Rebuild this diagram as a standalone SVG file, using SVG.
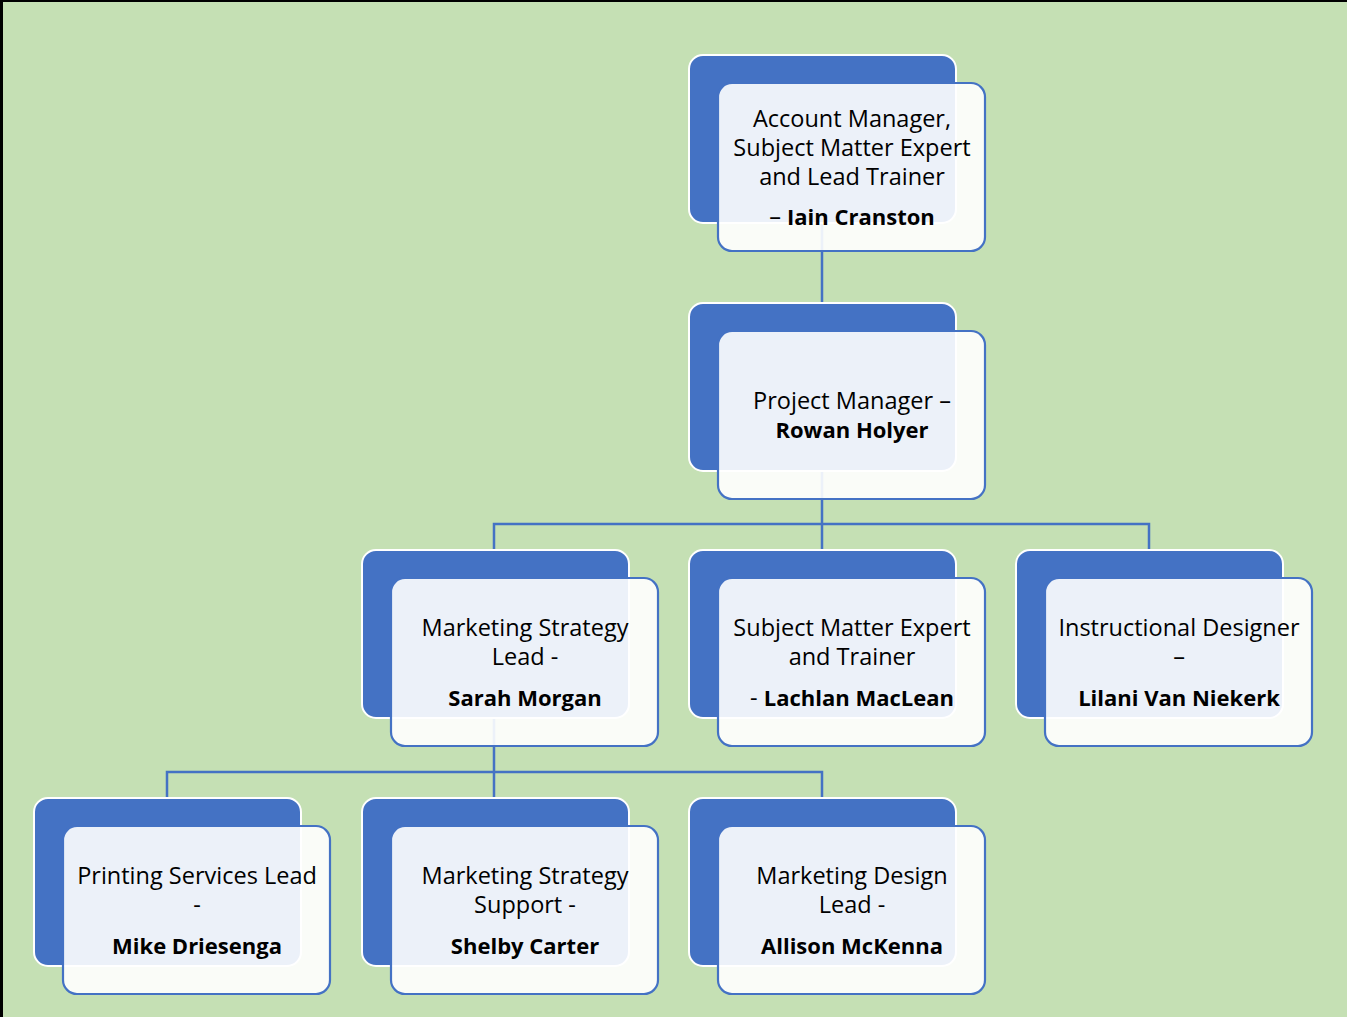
<svg xmlns="http://www.w3.org/2000/svg" width="1347" height="1017" viewBox="0 0 1347 1017">
<style>
.bg{fill:#4472C4;stroke:#FFFFFF;stroke-width:2}
.fg{fill:#FFFFFF;fill-opacity:0.9;stroke:#4472C4;stroke-width:2.2}
.conn{fill:none;stroke:#4472C4;stroke-width:2.5}
text{font-family:"Open Sans","Liberation Sans",sans-serif;font-size:23.5px;fill:#000000;text-anchor:middle}
.b{font-weight:bold;font-size:22px}
</style>
<rect x="0" y="0" width="1347" height="1017" fill="#C5E0B4"/>
<rect x="0" y="0" width="3" height="1017" fill="#000000"/>
<rect x="0" y="0" width="1347" height="2" fill="#000000"/>
<g id="connectors">
<path class="conn" d="M822,222 V303"/>
<path class="conn" d="M822,471 V524 M494,550 V524 H1149 V550 M822,524 V550"/>
<path class="conn" d="M494,718 V772 M167,798 V772 H822 V798 M494,772 V798"/>
</g>
<g id="n1">
<rect class="bg" x="689" y="55" width="267" height="168" rx="14"/>
<rect class="fg" x="718" y="83" width="267" height="168" rx="14"/>
<text x="852" y="127">Account Manager,</text>
<text x="852" y="156">Subject Matter Expert</text>
<text x="852" y="185">and Lead Trainer</text>
<text x="852" y="225">– <tspan class="b">Iain Cranston</tspan></text>
</g>
<g id="n2">
<rect class="bg" x="689" y="303" width="267" height="168" rx="14"/>
<rect class="fg" x="718" y="331" width="267" height="168" rx="14"/>
<text x="852" y="409">Project Manager –</text>
<text x="852" y="438" class="b">Rowan Holyer</text>
</g>
<g id="n3">
<rect class="bg" x="362" y="550" width="267" height="168" rx="14"/>
<rect class="fg" x="391" y="578" width="267" height="168" rx="14"/>
<text x="525" y="636">Marketing Strategy</text>
<text x="525" y="665">Lead -</text>
<text x="525" y="706" class="b">Sarah Morgan</text>
</g>
<g id="n4">
<rect class="bg" x="689" y="550" width="267" height="168" rx="14"/>
<rect class="fg" x="718" y="578" width="267" height="168" rx="14"/>
<text x="852" y="636">Subject Matter Expert</text>
<text x="852" y="665">and Trainer</text>
<text x="852" y="706">- <tspan class="b">Lachlan MacLean</tspan></text>
</g>
<g id="n5">
<rect class="bg" x="1016" y="550" width="267" height="168" rx="14"/>
<rect class="fg" x="1045" y="578" width="267" height="168" rx="14"/>
<text x="1179" y="636">Instructional Designer</text>
<text x="1179" y="665">–</text>
<text x="1179" y="706" class="b">Lilani Van Niekerk</text>
</g>
<g id="n6">
<rect class="bg" x="34" y="798" width="267" height="168" rx="14"/>
<rect class="fg" x="63" y="826" width="267" height="168" rx="14"/>
<text x="197" y="884">Printing Services Lead</text>
<text x="197" y="913">-</text>
<text x="197" y="954" class="b">Mike Driesenga</text>
</g>
<g id="n7">
<rect class="bg" x="362" y="798" width="267" height="168" rx="14"/>
<rect class="fg" x="391" y="826" width="267" height="168" rx="14"/>
<text x="525" y="884">Marketing Strategy</text>
<text x="525" y="913">Support -</text>
<text x="525" y="954" class="b">Shelby Carter</text>
</g>
<g id="n8">
<rect class="bg" x="689" y="798" width="267" height="168" rx="14"/>
<rect class="fg" x="718" y="826" width="267" height="168" rx="14"/>
<text x="852" y="884">Marketing Design</text>
<text x="852" y="913">Lead -</text>
<text x="852" y="954" class="b">Allison McKenna</text>
</g>
</svg>
